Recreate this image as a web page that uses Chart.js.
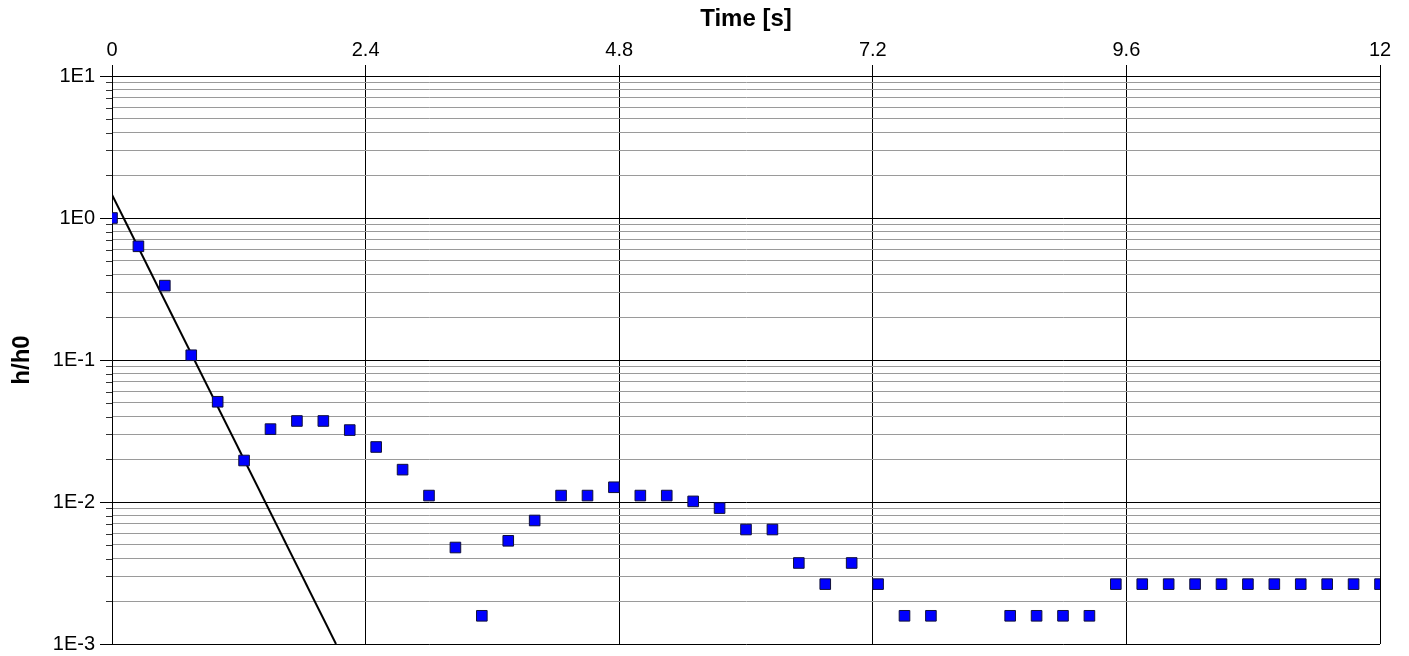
<!DOCTYPE html>
<html>
<head>
<meta charset="utf-8">
<script src="https://cdn.jsdelivr.net/npm/chart.js@4.4.1/dist/chart.umd.min.js"></script>
<style>
  html, body { margin: 0; padding: 0; background: #ffffff; }
  canvas { display: block; }
</style>
</head>
<body>
<canvas id="chart" width="1409" height="656"></canvas>
<script>
// Measured decay ratio h/h0 sampled every 0.25 s (null = no reading)
const times = [
  0, 0.25, 0.5, 0.75, 1.0, 1.25, 1.5, 1.75, 2.0, 2.25, 2.5, 2.75,
  3.0, 3.25, 3.5, 3.75, 4.0, 4.25, 4.5, 4.75, 5.0, 5.25, 5.5, 5.75,
  6.0, 6.25, 6.5, 6.75, 7.0, 7.25, 7.5, 7.75, 8.0, 8.25, 8.5, 8.75,
  9.0, 9.25, 9.5, 9.75, 10.0, 10.25, 10.5, 10.75, 11.0, 11.25, 11.5, 11.75, 12.0
];
const ratio = [
  1.0, 0.632, 0.334, 0.108, 0.0508, 0.0196, 0.0326, 0.0372, 0.0372, 0.0321, 0.0244, 0.0169,
  0.0111, 0.00478, 0.00158, 0.00533, 0.00741, 0.0111, 0.0111, 0.0127, 0.0111, 0.0111, 0.0101, 0.00906,
  0.0064, 0.0064, 0.00372, 0.00264, 0.00372, 0.00264, 0.00158, 0.00158, null, null, 0.00158, 0.00158,
  0.00158, 0.00158, 0.00264, 0.00264, 0.00264, 0.00264, 0.00264, 0.00264, 0.00264, 0.00264, 0.00264, 0.00264, 0.00264
];

// Exponential fit (straight on the log axis)
const fitTimes = [0, 2.12];
const fitRatio = [1.46, 0.001];

// Axis ticks
const xTickValues = [0, 2.4, 4.8, 7.2, 9.6, 12];
const yDecadeExponents = [-3, -2, -1, 0, 1];
const yDecadeLabels = ['1E-3', '1E-2', '1E-1', '1E0', '1E1'];

function decadeIndex(v) {
  const e = Math.log10(v);
  const r = Math.round(e);
  if (Math.abs(e - r) > 1e-9) return -1;
  return yDecadeExponents.indexOf(r);
}

// 1..9 x 10^e for every decade, closing with the top decade
const yTickValues = [];
for (let i = 0; i < yDecadeExponents.length - 1; i++) {
  for (let m = 1; m <= 9; m++) {
    yTickValues.push(Number((m * Math.pow(10, yDecadeExponents[i])).toPrecision(3)));
  }
}
yTickValues.push(Math.pow(10, yDecadeExponents[yDecadeExponents.length - 1]));

const pointData = times.map((t, i) => ({ x: t, y: ratio[i] }));
const fitData = fitTimes.map((t, i) => ({ x: t, y: fitRatio[i] }));

// Left-hand tick marks: long at decades, short in between
const yTickMarks = {
  id: 'yTickMarks',
  afterDraw(chart) {
    const ctx = chart.ctx;
    const y = chart.scales.y;
    const left = chart.chartArea.left;
    ctx.save();
    ctx.lineWidth = 1;
    yTickValues.forEach(v => {
      const py = Math.round(y.getPixelForValue(v)) + 0.5;
      const major = decadeIndex(v) >= 0;
      ctx.strokeStyle = major ? '#000000' : '#333333';
      ctx.beginPath();
      ctx.moveTo(left - (major ? 12 : 6), py);
      ctx.lineTo(left, py);
      ctx.stroke();
    });
    ctx.restore();
  }
};

Chart.defaults.font.family = '"Liberation Sans", Arial, Helvetica, sans-serif';
Chart.defaults.color = '#000000';

new Chart(document.getElementById('chart'), {
  type: 'scatter',
  data: {
    datasets: [
      {
        label: 'h/h0',
        data: pointData,
        pointStyle: 'rect',
        pointRadius: 7.5,
        pointHoverRadius: 7.5,
        backgroundColor: '#0000ff',
        borderColor: '#10103a',
        borderWidth: 1,
        clip: 0
      },
      {
        label: 'fit',
        data: fitData,
        showLine: true,
        borderColor: '#000000',
        borderWidth: 2,
        pointRadius: 0,
        pointHoverRadius: 0,
        fill: false
      }
    ]
  },
  options: {
    responsive: false,
    animation: false,
    devicePixelRatio: 1,
    layout: { autoPadding: false, padding: { left: 0, top: 0, right: 29, bottom: 12 } },
    plugins: {
      legend: { display: false },
      tooltip: { enabled: false }
    },
    scales: {
      x: {
        type: 'linear',
        position: 'top',
        min: 0,
        max: 12,
        afterBuildTicks(scale) {
          scale.ticks = xTickValues.map(v => ({ value: v }));
        },
        afterFit(scale) { scale.height = 76; },
        ticks: {
          font: { size: 20 },
          padding: 3,
          maxRotation: 0,
          autoSkip: false,
          callback: v => String(v)
        },
        grid: {
          color: '#000000',
          lineWidth: 1,
          drawTicks: true,
          tickLength: 11,
          tickColor: '#000000'
        },
        border: { color: '#000000', width: 1 },
        title: {
          display: true,
          text: 'Time [s]',
          font: { size: 24, weight: 'bold' },
          padding: { top: 5, bottom: 0 }
        }
      },
      y: {
        type: 'logarithmic',
        position: 'left',
        min: 0.001,
        max: 10,
        afterBuildTicks(scale) {
          scale.ticks = yTickValues.map(v => ({ value: v, major: decadeIndex(v) >= 0 }));
        },
        afterFit(scale) { scale.width = 112; },
        ticks: {
          font: { size: 20 },
          padding: 0,
          autoSkip: false,
          callback: v => {
            const i = decadeIndex(v);
            return i >= 0 ? yDecadeLabels[i] : '';
          }
        },
        grid: {
          drawTicks: true,
          tickLength: 17,
          tickColor: 'rgba(0,0,0,0)',
          lineWidth: 1,
          color: ctx => (ctx.tick && decadeIndex(ctx.tick.value) >= 0) ? '#000000' : '#9a9a9a'
        },
        border: { color: '#000000', width: 1 },
        title: {
          display: true,
          text: 'h/h0',
          font: { size: 24, weight: 'bold' },
          padding: { top: 8, bottom: 0 }
        }
      }
    }
  },
  plugins: [yTickMarks]
});
</script>
</body>
</html>
